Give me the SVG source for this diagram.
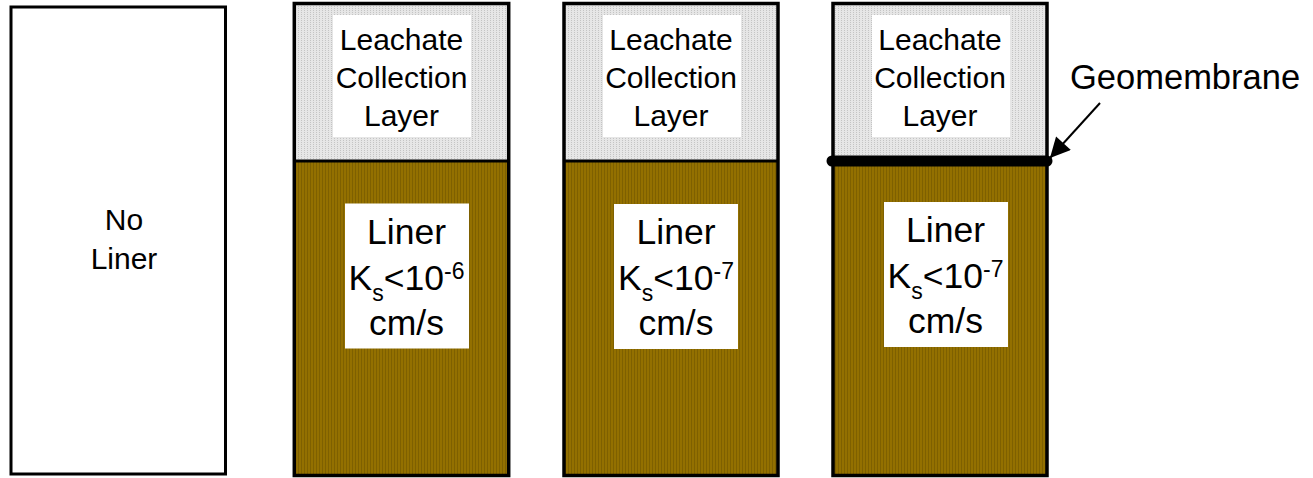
<svg xmlns="http://www.w3.org/2000/svg" width="1313" height="478" viewBox="0 0 1313 478">
  <defs>
    <!-- fine dotted texture for the drainage (leachate collection) layer -->
    <pattern id="gravel" width="3" height="2" patternUnits="userSpaceOnUse">
      <rect width="3" height="2" fill="#e6e6e6"/>
      <rect x="1" y="0" width="1" height="1" fill="#c4c4c4"/>
    </pattern>
    <!-- vertical striping for the compacted clay liner -->
    <pattern id="clay" width="3" height="3" patternUnits="userSpaceOnUse">
      <rect width="3" height="3" fill="#937000"/>
      <rect x="1" y="0" width="1" height="3" fill="#7e6000"/>
    </pattern>
    <marker id="head" viewBox="0 0 10 10" refX="10" refY="5" markerWidth="24" markerHeight="20" markerUnits="userSpaceOnUse" orient="auto">
      <path d="M0,0 L10,5 L0,10 z" fill="#000"/>
    </marker>
  </defs>
  <style>
    .frame { fill: none; stroke: #000; stroke-width: 3.5; }
    .label { fill: #fff; stroke: none; }
    .t { font-family: "Liberation Sans", Arial, sans-serif; fill: #000; text-anchor: middle; }
    .lc { font-size: 30px; }
    .ln { font-size: 35.5px; }
    .sub { font-size: 23px; }
  </style>

  <!-- column 1: no liner -->
  <g id="col-noliner">
    <rect x="11" y="7" width="214.5" height="467" fill="#fff" stroke="#000" stroke-width="3"/>
    <text class="t lc" x="124" y="230">No</text>
    <text class="t lc" x="124" y="269">Liner</text>
  </g>

  <!-- column 2: leachate collection over clay liner, Ks < 1e-6 -->
  <g id="col-clay6">
    <rect x="294.3" y="3.5" width="214.4" height="157.5" fill="url(#gravel)"/>
    <rect x="294.3" y="161" width="214.4" height="314.5" fill="url(#clay)"/>
    <rect class="frame" x="294.3" y="3.5" width="214.4" height="472"/>
    <line x1="294.3" y1="161" x2="508.7" y2="161" stroke="#000" stroke-width="3"/>
    <rect class="label" x="333" y="15" width="138" height="122"/>
    <text class="t lc" x="401.5" y="50">Leachate</text>
    <text class="t lc" x="401.5" y="88">Collection</text>
    <text class="t lc" x="401.5" y="126">Layer</text>
    <rect class="label" x="345" y="203.5" width="124" height="145"/>
    <text class="t ln" x="406.5" y="244">Liner</text>
    <text class="t ln" x="406.5" y="290">K<tspan class="sub" dy="11">s</tspan><tspan dy="-11">&lt;10</tspan><tspan class="sub" dy="-11">-6</tspan></text>
    <text class="t ln" x="406.5" y="335">cm/s</text>
  </g>

  <!-- column 3: leachate collection over clay liner, Ks < 1e-7 -->
  <g id="col-clay7">
    <rect x="564" y="3.5" width="214" height="157.5" fill="url(#gravel)"/>
    <rect x="564" y="161" width="214" height="314.5" fill="url(#clay)"/>
    <rect class="frame" x="564" y="3.5" width="214" height="472"/>
    <line x1="564" y1="161" x2="778" y2="161" stroke="#000" stroke-width="3"/>
    <rect class="label" x="603" y="15" width="138" height="122"/>
    <text class="t lc" x="671" y="50">Leachate</text>
    <text class="t lc" x="671" y="88">Collection</text>
    <text class="t lc" x="671" y="126">Layer</text>
    <rect class="label" x="614" y="204" width="124" height="145"/>
    <text class="t ln" x="676" y="244">Liner</text>
    <text class="t ln" x="676" y="290">K<tspan class="sub" dy="11">s</tspan><tspan dy="-11">&lt;10</tspan><tspan class="sub" dy="-11">-7</tspan></text>
    <text class="t ln" x="676" y="335">cm/s</text>
  </g>

  <!-- column 4: composite liner with geomembrane -->
  <g id="col-composite">
    <rect x="833" y="3.5" width="214" height="157.5" fill="url(#gravel)"/>
    <rect x="833" y="161" width="214" height="314.5" fill="url(#clay)"/>
    <rect class="frame" x="833" y="3.5" width="214" height="472"/>
    <rect class="label" x="872" y="15" width="138" height="122"/>
    <text class="t lc" x="940" y="50">Leachate</text>
    <text class="t lc" x="940" y="88">Collection</text>
    <text class="t lc" x="940" y="126">Layer</text>
    <rect class="label" x="884" y="202" width="124" height="145"/>
    <text class="t ln" x="945.5" y="242">Liner</text>
    <text class="t ln" x="945.5" y="288">K<tspan class="sub" dy="11">s</tspan><tspan dy="-11">&lt;10</tspan><tspan class="sub" dy="-11">-7</tspan></text>
    <text class="t ln" x="945.5" y="333">cm/s</text>
  </g>

  <!-- geomembrane sheet -->
  <g id="geomembrane">
    <line x1="832" y1="161" x2="1047" y2="161" stroke="#000" stroke-width="11" stroke-linecap="round"/>
    <text x="1070" y="89" font-family="Liberation Sans, Arial, sans-serif" font-size="34.5" fill="#000">Geomembrane</text>
  </g>

  <g id="connectors">
    <line x1="1100" y1="103" x2="1050" y2="158" stroke="#000" stroke-width="2" marker-end="url(#head)"/>
  </g>
</svg>
